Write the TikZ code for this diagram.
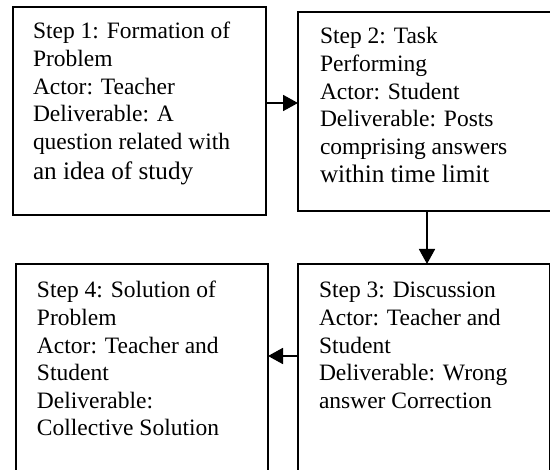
\documentclass[tikz,border=0pt]{standalone}
\usepackage{fontspec}
\setmainfont{Liberation Serif}
\usetikzlibrary{arrows.meta,calc}
\newcommand{\boxtext}[1]{{\fontsize{23.5}{27.6}\selectfont\begin{tabular}[t]{@{}l@{}}#1\end{tabular}}}
\newcommand{\bigline}[1]{{\fontsize{25.2}{27.6}\selectfont #1}}
\begin{document}
\begin{tikzpicture}[x=1pt,y=-1pt,
  box/.style={draw, line width=1.3pt, rectangle, inner sep=0pt, outer sep=0pt, anchor=north west},
  arr/.style={line width=1.8pt, -{Triangle[length=15pt,width=16pt]}},
  lbl/.style={anchor=base west, inner sep=0pt, outer sep=0pt}]
\useasboundingbox (0,0) rectangle (550,470);
\fill[white] (0,0) rectangle (550,470);
\node[box, minimum width=253pt, minimum height=208pt] (b1) at (13,7) {};
\node[box, minimum width=262pt, minimum height=199pt] (b2) at (298,12) {};
\node[box, minimum width=251.5pt, minimum height=216pt] (b3) at (298,264) {};
\node[box, minimum width=252pt, minimum height=216pt] (b4) at (16,264) {};
\node[lbl] (t1) at ([xshift=20pt,yshift=-32pt]b1.north west) {\boxtext{Step 1: Formation of\\Problem\\Actor: Teacher\\Deliverable: A\\question related with\\[3pt]\bigline{an idea of study}}};
\node[lbl] (t2) at ([xshift=22pt,yshift=-32pt]b2.north west) {\boxtext{Step 2: Task\\Performing\\Actor: Student\\Deliverable: Posts\\comprising answers\\[1pt]\bigline{within time limit}}};
\node[lbl] (t3) at ([xshift=21pt,yshift=-34pt]b3.north west) {\boxtext{Step 3: Discussion\\Actor: Teacher and\\Student\\Deliverable: Wrong\\answer Correction}};
\node[lbl] (t4) at ([xshift=21pt,yshift=-34pt]b4.north west) {\boxtext{Step 4: Solution of\\Problem\\Actor: Teacher and\\Student\\Deliverable:\\Collective Solution}};
\coordinate (c1) at (0,103);
\coordinate (c2) at (427,0);
\coordinate (c3) at (0,356);
\draw[arr] (b1.east |- c1) -- (b2.west |- c1);
\draw[arr] (b2.south -| c2) -- (b3.north -| c2);
\draw[arr] (b3.west |- c3) -- (b4.east |- c3);
\end{tikzpicture}
\end{document}
